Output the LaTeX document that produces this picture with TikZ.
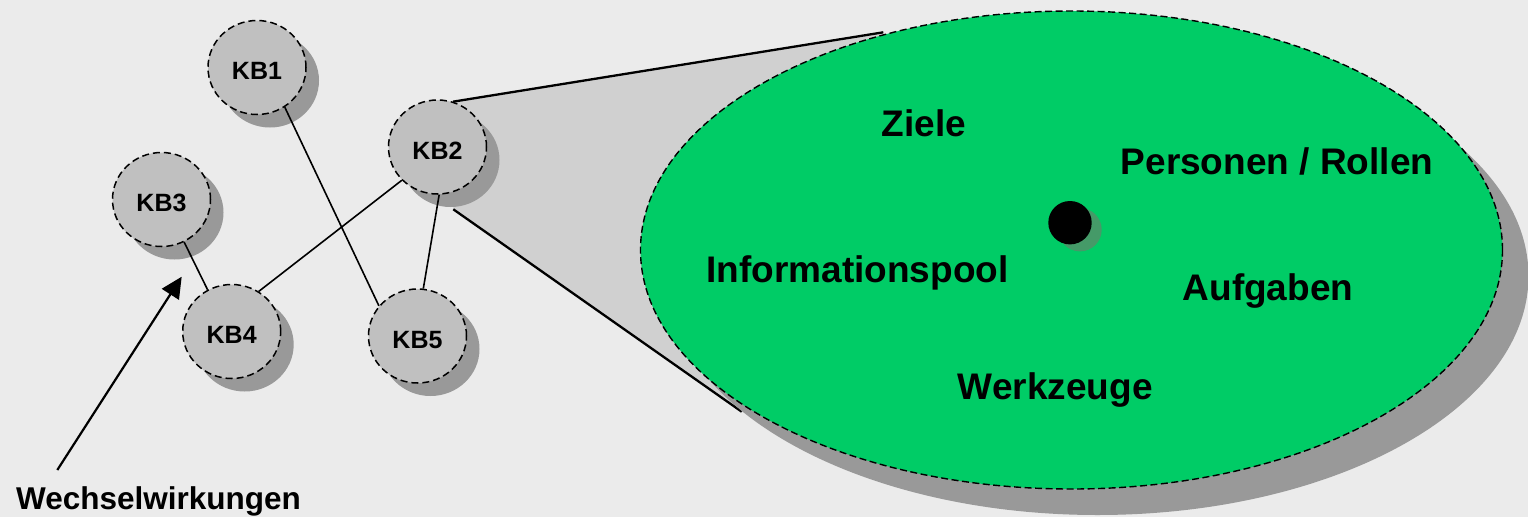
\documentclass[tikz,border=0pt]{standalone}
\usepackage{fontspec}
\setmainfont{Liberation Sans}
\usetikzlibrary{shapes.geometric,shadows,arrows.meta}
\pgfdeclarelayer{back}
\pgfsetlayers{back,main}
\definecolor{bg}{HTML}{EBEBEB}
\definecolor{kbfill}{HTML}{C0C0C0}
\definecolor{shade}{HTML}{999999}
\definecolor{conefill}{HTML}{D0D0D0}
\definecolor{teamgreen}{HTML}{00CC66}
\definecolor{dotshade}{HTML}{459A68}
\tikzset{
  kb/.style={ellipse, draw, line width=1.5pt, dash pattern=on 7pt off 4pt,
    fill=kbfill, minimum width=98pt, minimum height=94pt, inner sep=0pt,
    font=\fontsize{25}{30}\selectfont\bfseries, text height=24.9pt, text depth=0pt,
    drop shadow={shadow xshift=13pt, shadow yshift=-13pt, fill=shade, opacity=1}},
  link/.style={line width=1.6pt},
  conel/.style={line width=2.3pt},
  biglabel/.style={anchor=base, inner sep=0pt, font=\fontsize{37}{44}\selectfont\bfseries},
  team/.style={ellipse, draw, line width=1.4pt, dash pattern=on 7pt off 3.5pt,
    fill=teamgreen, minimum width=862pt, minimum height=478pt, inner sep=0pt,
    drop shadow={shadow xshift=26pt, shadow yshift=-26pt, fill=shade, opacity=1}},
  hub/.style={circle, fill=black, minimum size=43.4pt, inner sep=0pt,
    drop shadow={shadow xshift=10pt, shadow yshift=-7pt, fill=dotshade, opacity=1}},
  pointer/.style={line width=2.2pt, -{Triangle[length=21pt,width=20pt]}},
}
\begin{document}
\begin{tikzpicture}[x=1pt,y=-1pt]
\useasboundingbox (0,0) rectangle (1528,517);
% big ellipse
\node[team] (team) at (1071.5,250) {};
\node[hub] (hub) at (1070,222.7) {};
\node[biglabel] (ziele) at (924,136) {Ziele};
\node[biglabel] (personen) at (1277,174) {Personen / Rollen};
\node[biglabel] (info) at (857.5,282.3) {Informationspool};
\node[biglabel] (aufgaben) at (1268,300) {Aufgaben};
\node[biglabel] (werkzeuge) at (1055.3,399.3) {Werkzeuge};
% KB nodes
\node[kb] (KB1) at (257,67.5) {KB1};
\node[kb] (KB2) at (437.5,147) {KB2};
\node[kb] (KB3) at (161.5,199.5) {KB3};
\node[kb] (KB4) at (231.7,331.5) {KB4};
\node[kb] (KB5) at (417.5,336) {KB5};
% connectors
\draw[link] (KB1.-55) -- (KB5.142);
\draw[link] (KB2.223) -- (KB4.56);
\draw[link] (KB2.-88) -- (KB5.83);
\draw[link] (KB3.-62) -- (KB4.120);
% cone
\coordinate (ctop) at (883.3,32.3);
\coordinate (cbot) at (741.7,411.7);
\coordinate (cstart) at (453.3,209.3);
\begin{pgfonlayer}{back}
\fill[bg] (0,0) rectangle (1528,517);
\fill[conefill] (KB2.71) -- (ctop) -- (cbot) -- (cstart) -- cycle;
\draw[conel] (KB2.71) -- (ctop);
\draw[conel] (cstart) -- (cbot);
\end{pgfonlayer}
% arrow and label
\node[anchor=base west, inner sep=0pt, font=\fontsize{31.5}{37}\selectfont\bfseries] (wech) at (16,509) {Wechselwirkungen};
\coordinate (atail) at (57.3,470);
\coordinate (atip) at (181.7,276.7);
\draw[pointer] (atail) -- (atip);
\end{tikzpicture}
\end{document}
